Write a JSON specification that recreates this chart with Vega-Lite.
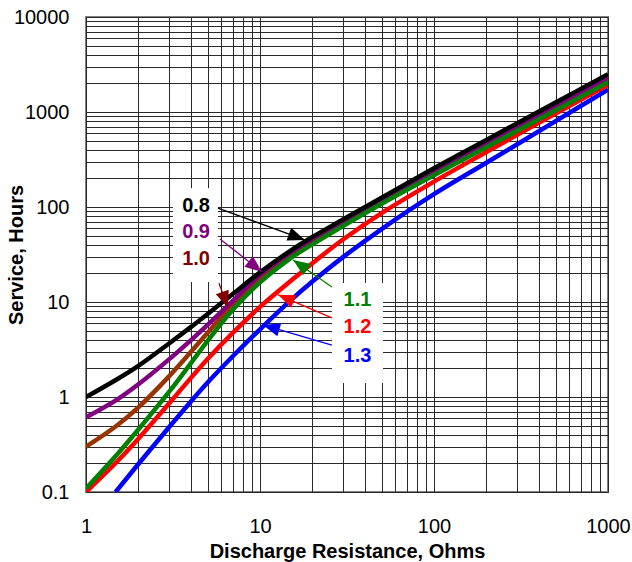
{
  "$schema": "https://vega.github.io/schema/vega-lite/v6.json",
  "width": 522,
  "height": 475,
  "autosize": {"type": "none"},
  "padding": {"left": 86, "top": 17, "right": 24, "bottom": 70},
  "background": "white",
  "config": {
    "view": {"stroke": "#808080", "strokeWidth": 2},
    "font": "Liberation Sans",
    "axis": {
      "domain": false,
      "ticks": false,
      "gridColor": "#2a2a2a",
      "gridWidth": 1,
      "labelFont": "Liberation Sans",
      "labelFontSize": 20,
      "labelColor": "black",
      "labelFlush": false,
      "labelOverlap": false,
      "titleFont": "Liberation Sans",
      "titleFontSize": 20,
      "titleFontWeight": "bold",
      "titleColor": "black"
    }
  },
  "datasets": {
    "curves": [
      {"series": "1.0", "R": 1, "H": 0.30}, {"series": "1.0", "R": 1.5, "H": 0.498}, {"series": "1.0", "R": 2, "H": 0.778}, {"series": "1.0", "R": 3, "H": 1.65}, {"series": "1.0", "R": 4, "H": 2.97}, {"series": "1.0", "R": 5, "H": 4.75}, {"series": "1.0", "R": 7, "H": 9.48}, {"series": "1.0", "R": 10, "H": 18.0}, {"series": "1.0", "R": 15, "H": 31.8}, {"series": "1.0", "R": 20, "H": 44.4}, {"series": "1.0", "R": 30, "H": 67.9}, {"series": "1.0", "R": 50, "H": 115}, {"series": "1.0", "R": 100, "H": 228}, {"series": "1.0", "R": 200, "H": 452}, {"series": "1.0", "R": 500, "H": 1110}, {"series": "1.0", "R": 1000, "H": 2190},
      {"series": "0.9", "R": 1, "H": 0.61}, {"series": "0.9", "R": 1.5, "H": 0.933}, {"series": "0.9", "R": 2, "H": 1.36}, {"series": "0.9", "R": 3, "H": 2.49}, {"series": "0.9", "R": 4, "H": 3.95}, {"series": "0.9", "R": 5, "H": 5.74}, {"series": "0.9", "R": 7, "H": 10.35}, {"series": "0.9", "R": 10, "H": 19.3}, {"series": "0.9", "R": 15, "H": 33.1}, {"series": "0.9", "R": 20, "H": 46.1}, {"series": "0.9", "R": 30, "H": 70.6}, {"series": "0.9", "R": 50, "H": 119}, {"series": "0.9", "R": 100, "H": 238}, {"series": "0.9", "R": 200, "H": 472}, {"series": "0.9", "R": 500, "H": 1170}, {"series": "0.9", "R": 1000, "H": 2300},
      {"series": "0.8", "R": 1, "H": 1.0}, {"series": "0.8", "R": 1.5, "H": 1.53}, {"series": "0.8", "R": 2, "H": 2.13}, {"series": "0.8", "R": 3, "H": 3.66}, {"series": "0.8", "R": 4, "H": 5.44}, {"series": "0.8", "R": 5, "H": 7.48}, {"series": "0.8", "R": 7, "H": 12.2}, {"series": "0.8", "R": 10, "H": 20.5}, {"series": "0.8", "R": 15, "H": 34.7}, {"series": "0.8", "R": 20, "H": 48.3}, {"series": "0.8", "R": 30, "H": 73.9}, {"series": "0.8", "R": 50, "H": 125}, {"series": "0.8", "R": 100, "H": 256}, {"series": "0.8", "R": 200, "H": 508}, {"series": "0.8", "R": 500, "H": 1259}, {"series": "0.8", "R": 1000, "H": 2500},
      {"series": "1.3", "R": 1.48, "H": 0.1}, {"series": "1.3", "R": 2, "H": 0.197}, {"series": "1.3", "R": 3, "H": 0.481}, {"series": "1.3", "R": 4, "H": 0.893}, {"series": "1.3", "R": 5, "H": 1.42}, {"series": "1.3", "R": 7, "H": 2.70}, {"series": "1.3", "R": 10, "H": 5.16}, {"series": "1.3", "R": 15, "H": 10.4}, {"series": "1.3", "R": 20, "H": 16.4}, {"series": "1.3", "R": 30, "H": 29.7}, {"series": "1.3", "R": 50, "H": 58.6}, {"series": "1.3", "R": 100, "H": 136.5}, {"series": "1.3", "R": 200, "H": 292}, {"series": "1.3", "R": 500, "H": 801}, {"series": "1.3", "R": 1000, "H": 1718},
      {"series": "1.2", "R": 1, "H": 0.1}, {"series": "1.2", "R": 1.5, "H": 0.207}, {"series": "1.2", "R": 2, "H": 0.364}, {"series": "1.2", "R": 3, "H": 0.853}, {"series": "1.2", "R": 4, "H": 1.58}, {"series": "1.2", "R": 5, "H": 2.51}, {"series": "1.2", "R": 7, "H": 4.75}, {"series": "1.2", "R": 10, "H": 8.87}, {"series": "1.2", "R": 15, "H": 16.6}, {"series": "1.2", "R": 20, "H": 25.6}, {"series": "1.2", "R": 30, "H": 45.5}, {"series": "1.2", "R": 50, "H": 86.3}, {"series": "1.2", "R": 100, "H": 185}, {"series": "1.2", "R": 200, "H": 379}, {"series": "1.2", "R": 500, "H": 966}, {"series": "1.2", "R": 1000, "H": 1930},
      {"series": "1.1", "R": 1, "H": 0.109}, {"series": "1.1", "R": 1.5, "H": 0.245}, {"series": "1.1", "R": 2, "H": 0.455}, {"series": "1.1", "R": 3, "H": 1.13}, {"series": "1.1", "R": 4, "H": 2.26}, {"series": "1.1", "R": 5, "H": 3.90}, {"series": "1.1", "R": 7, "H": 8.32}, {"series": "1.1", "R": 10, "H": 16.1}, {"series": "1.1", "R": 15, "H": 29.0}, {"series": "1.1", "R": 20, "H": 40.4}, {"series": "1.1", "R": 30, "H": 63.1}, {"series": "1.1", "R": 50, "H": 108}, {"series": "1.1", "R": 100, "H": 216}, {"series": "1.1", "R": 200, "H": 426}, {"series": "1.1", "R": 500, "H": 1045}, {"series": "1.1", "R": 1000, "H": 2060}
    ],
    "boxes": [
      {"R0": 3.16, "R1": 5.73, "H0": 16.2, "H1": 158},
      {"R0": 25.9, "R1": 50.9, "H0": 1.40, "H1": 15.85}
    ],
    "arrows": [
      {"label": "0.8", "R0": 5.73, "H0": 97.5, "R1": 18.1, "H1": 45.0},
      {"label": "0.9", "R0": 5.89, "H0": 46, "R1": 10.27, "H1": 20.7},
      {"label": "1.0", "R0": 5.81, "H0": 15.8, "R1": 6.55, "H1": 8.65},
      {"label": "1.1", "R0": 25.9, "H0": 14.4, "R1": 15.5, "H1": 27.7},
      {"label": "1.2", "R0": 25.9, "H0": 6.8, "R1": 12.7, "H1": 11.9},
      {"label": "1.3", "R0": 25.9, "H0": 3.52, "R1": 10.4, "H1": 5.73}
    ],
    "labels": [
      {"label": "0.8", "R": 4.29, "H": 102.4},
      {"label": "0.9", "R": 4.29, "H": 54.5},
      {"label": "1.0", "R": 4.29, "H": 28.4},
      {"label": "1.1", "R": 36.3, "H": 10.5},
      {"label": "1.2", "R": 36.3, "H": 5.39},
      {"label": "1.3", "R": 36.3, "H": 2.73}
    ]
  },
  "layer": [
    {
      "data": {"name": "curves"},
      "mark": {"type": "line", "strokeWidth": 4.5, "interpolate": "catmull-rom", "clip": true},
      "encoding": {
        "x": {
          "field": "R", "type": "quantitative",
          "scale": {"type": "log", "domain": [1, 1000], "nice": false},
          "axis": {
            "title": "Discharge Resistance, Ohms",
            "values": [1,2,3,4,5,6,7,8,9,10,20,30,40,50,60,70,80,90,100,200,300,400,500,600,700,800,900,1000],
            "format": "~r",
            "labelExpr": "datum.value == 1 || datum.value == 10 || datum.value == 100 || datum.value == 1000 ? datum.label : ''",
            "labelPadding": 24,
            "titleBaseline": "alphabetic",
            "titleY": 65
          }
        },
        "y": {
          "field": "H", "type": "quantitative",
          "scale": {"type": "log", "domain": [0.1, 10000], "nice": false},
          "axis": {
            "title": "Service, Hours",
            "values": [0.1,0.2,0.3,0.4,0.5,0.6,0.7,0.8,0.9,1,2,3,4,5,6,7,8,9,10,20,30,40,50,60,70,80,90,100,200,300,400,500,600,700,800,900,1000,2000,3000,4000,5000,6000,7000,8000,9000,10000],
            "format": "~r",
            "labelExpr": "datum.value == 0.1 || datum.value == 1 || datum.value == 10 || datum.value == 100 || datum.value == 1000 || datum.value == 10000 ? datum.label : ''",
            "labelPadding": 17,
            "titleBaseline": "alphabetic",
            "titleX": -64,
            "titleAngle": -90
          }
        },
        "color": {
          "field": "series", "type": "nominal",
          "scale": {"domain": ["0.8","0.9","1.0","1.1","1.2","1.3"], "range": ["#000000","#800080","#993300","#008000","#FF0000","#0000FF"]},
          "legend": null
        },
        "detail": {"field": "series"}
      }
    },
    {
      "data": {"name": "boxes"},
      "mark": {"type": "rect", "fill": "white", "stroke": null},
      "encoding": {
        "x": {"field": "R0", "type": "quantitative"},
        "x2": {"field": "R1"},
        "y": {"field": "H0", "type": "quantitative"},
        "y2": {"field": "H1"}
      }
    },
    {
      "data": {"name": "arrows"},
      "mark": {"type": "rule", "strokeWidth": 1.3},
      "encoding": {
        "x": {"field": "R0", "type": "quantitative"},
        "x2": {"field": "R1"},
        "y": {"field": "H0", "type": "quantitative"},
        "y2": {"field": "H1"},
        "color": {
          "field": "label", "type": "nominal",
          "scale": {"domain": ["0.8","0.9","1.0","1.1","1.2","1.3"], "range": ["#000000","#800080","#800000","#008000","#FF0000","#0000FF"]},
          "legend": null
        }
      }
    },
    {
      "data": {"name": "arrows"},
      "mark": {"type": "point", "shape": "M0,0L-0.8,2L0.8,2Z", "filled": true, "opacity": 1, "size": 289, "strokeWidth": 0},
      "encoding": {
        "x": {"field": "R1", "type": "quantitative"},
        "y": {"field": "H1", "type": "quantitative"},
        "angle": {
          "field": "label", "type": "nominal",
          "scale": {"type": "ordinal", "domain": ["0.8","0.9","1.0","1.1","1.2","1.3"], "range": [110.2, 128.2, 160.2, 304.7, 293.1, 286.2]},
          "legend": null
        },
        "color": {
          "field": "label", "type": "nominal",
          "scale": {"domain": ["0.8","0.9","1.0","1.1","1.2","1.3"], "range": ["#000000","#800080","#800000","#008000","#FF0000","#0000FF"]},
          "legend": null
        }
      }
    },
    {
      "data": {"name": "labels"},
      "mark": {"type": "text", "font": "Liberation Sans", "fontSize": 20, "fontWeight": "bold", "align": "center", "baseline": "middle"},
      "encoding": {
        "x": {"field": "R", "type": "quantitative"},
        "y": {"field": "H", "type": "quantitative"},
        "text": {"field": "label"},
        "color": {
          "field": "label", "type": "nominal",
          "scale": {"domain": ["0.8","0.9","1.0","1.1","1.2","1.3"], "range": ["#000000","#800080","#800000","#008000","#FF0000","#0000FF"]},
          "legend": null
        }
      }
    }
  ],
  "resolve": {"scale": {"color": "independent"}}
}
